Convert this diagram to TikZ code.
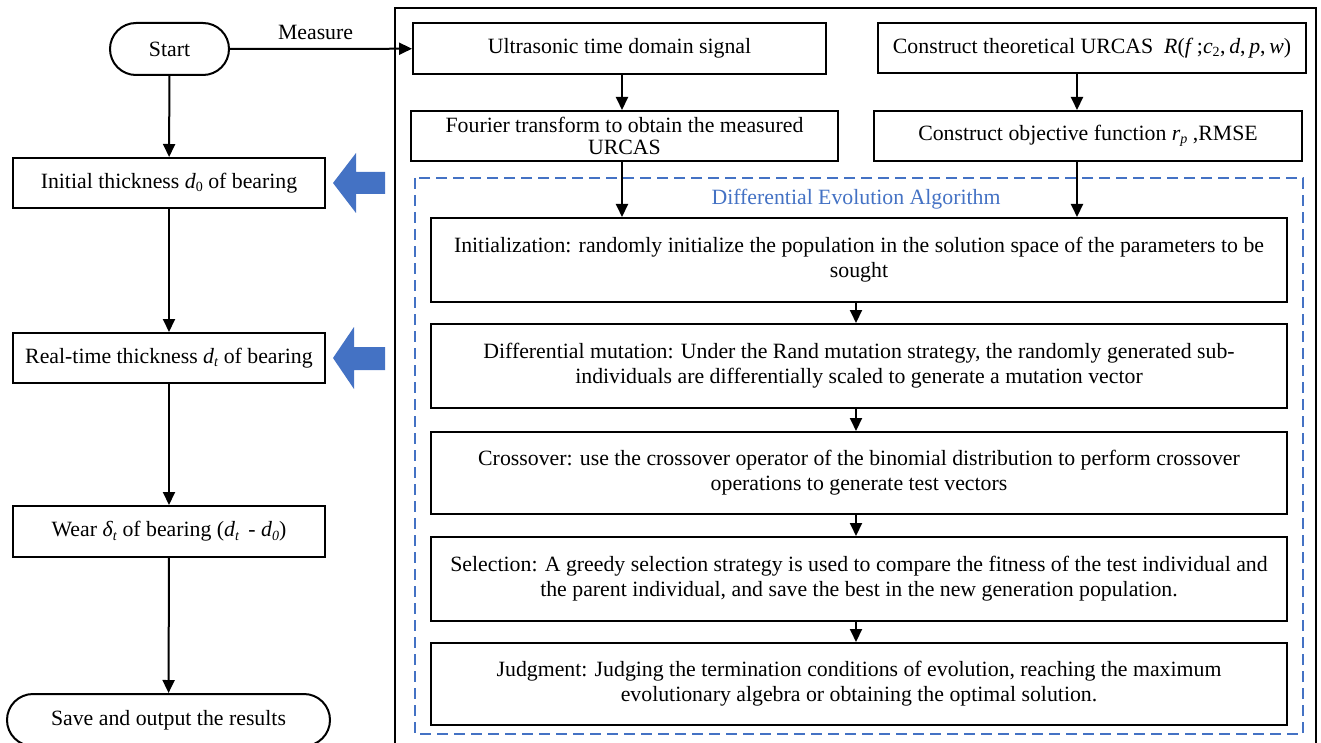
\documentclass[tikz,border=0pt]{standalone}
\usepackage{fontspec}
\setmainfont{Liberation Serif}
\usetikzlibrary{arrows.meta,calc}
\definecolor{deblue}{HTML}{4472C4}
\newcommand{\lsub}[1]{\raisebox{-0.35ex}{\fontsize{14}{14}\selectfont #1}}
\begin{document}
\begin{tikzpicture}[x=1pt,y=-1pt,
  box/.style={draw, line width=2pt, inner sep=0pt, align=center, font=\fontsize{21.8}{25}\selectfont},
  stadium/.style={box, rounded corners=26pt},
  arr/.style={line width=2pt, -{Triangle[width=12pt,length=13pt]}},
  lbl/.style={font=\fontsize{21.8}{25}\selectfont, inner sep=0pt},
  bigarrow/.style={fill=deblue}]
\useasboundingbox (0,0) rectangle (1321,743);
\clip (0,0) rectangle (1321,743);

% outer frame and dashed group
\draw[line width=2pt] (395,8) rectangle (1316,780);
\draw[deblue, line width=2pt, dash pattern=on 11pt off 6pt] (415,178) rectangle (1303,734);
\node[lbl, text=deblue] (detitle) at (856,199) {Differential Evolution Algorithm};

% left column
\node[stadium, minimum width=119pt, minimum height=52pt] (start) at (169.5,49) {Start};
\node[box, minimum width=312pt, minimum height=50pt] (init) at (169,183) {Initial thickness \textit{d}\lsub{0} of bearing};
\node[box, minimum width=312pt, minimum height=50pt] (real) at (169,358) {Real-time thickness \textit{d}\lsub{\textit{t}} of bearing};
\node[box, minimum width=312pt, minimum height=51pt] (wear) at (169,531.5) {Wear \textit{δ}\lsub{\textit{t}} of bearing (\textit{d}\lsub{\textit{t}} \,- \textit{d}\lsub{\textit{0}})};
\node[stadium, minimum width=323pt, minimum height=52pt] (save) at (168.5,720) {Save and output the results};

% top right boxes
\node[box, minimum width=413pt, minimum height=51pt] (ultra) at (619.5,48.5) {Ultrasonic time domain signal};
\node[box, minimum width=428pt, minimum height=50pt] (theo) at (1092,48) {Construct theoretical URCAS \ \textit{R}(\textit{f}\,;\textit{c}\lsub{2}\kern0.5pt,\,\textit{d},\,\textit{p},\,\textit{w})};
\node[box, minimum width=427pt, minimum height=50pt, font=\fontsize{21.8}{22.5}\selectfont] (fourier) at (624.5,136) {Fourier transform to obtain the measured\\URCAS};
\node[box, minimum width=428pt, minimum height=50pt] (obj) at (1088,136) {Construct objective function \textit{r}\lsub{\textit{p}} ,RMSE};

% DE boxes
\node[box, minimum width=856pt, minimum height=84pt] (deinit) at (859,260) {Initialization: randomly initialize the population in the solution space of the parameters to be\\sought};
\node[box, minimum width=856pt, minimum height=84pt] (mut) at (859,366) {Differential mutation: Under the Rand mutation strategy, the randomly generated sub-\\individuals are differentially scaled to generate a mutation vector};
\node[box, minimum width=856pt, minimum height=82pt] (cross) at (859,473) {Crossover: use the crossover operator of the binomial distribution to perform crossover\\operations to generate test vectors};
\node[box, minimum width=856pt, minimum height=84pt] (sel) at (859,579) {Selection: A greedy selection strategy is used to compare the fitness of the test individual and\\the parent individual, and save the best in the new generation population.};
\node[box, minimum width=856pt, minimum height=82pt] (judg) at (859,684) {Judgment: Judging the termination conditions of evolution, reaching the maximum\\evolutionary algebra or obtaining the optimal solution.};

% column coordinates
\coordinate (colA) at (622,0);
\coordinate (colB) at (1077,0);
\coordinate (colC) at (856,0);

% connectors left
\draw[arr] (start) -- (init);
\draw[arr] (init) -- (real);
\draw[arr] (real) -- (wear);
\draw[arr] (wear) -- (save);
\draw[arr] (start) -- node[lbl, above=8pt, pos=0.47] {Measure} (ultra);

% connectors right
\draw[arr] (colA |- ultra.south) -- (colA |- fourier.north);
\draw[arr] (colA |- fourier.south) -- (colA |- deinit.north);
\draw[arr] (colB |- theo.south) -- (colB |- obj.north);
\draw[arr] (colB |- obj.south) -- (colB |- deinit.north);
\draw[arr] (colC |- deinit.south) -- (colC |- mut.north);
\draw[arr] (colC |- mut.south) -- (colC |- cross.north);
\draw[arr] (colC |- cross.south) -- (colC |- sel.north);
\draw[arr] (colC |- sel.south) -- (colC |- judg.north);

% blue block arrows
\fill[bigarrow] (333,183) -- (356,153) -- (356,172) -- (385,172) -- (385,194) -- (356,194) -- (356,213) -- cycle;
\fill[bigarrow] (333,358) -- (354,327) -- (354,347) -- (385,347) -- (385,370) -- (354,370) -- (354,389) -- cycle;
\end{tikzpicture}
\end{document}
